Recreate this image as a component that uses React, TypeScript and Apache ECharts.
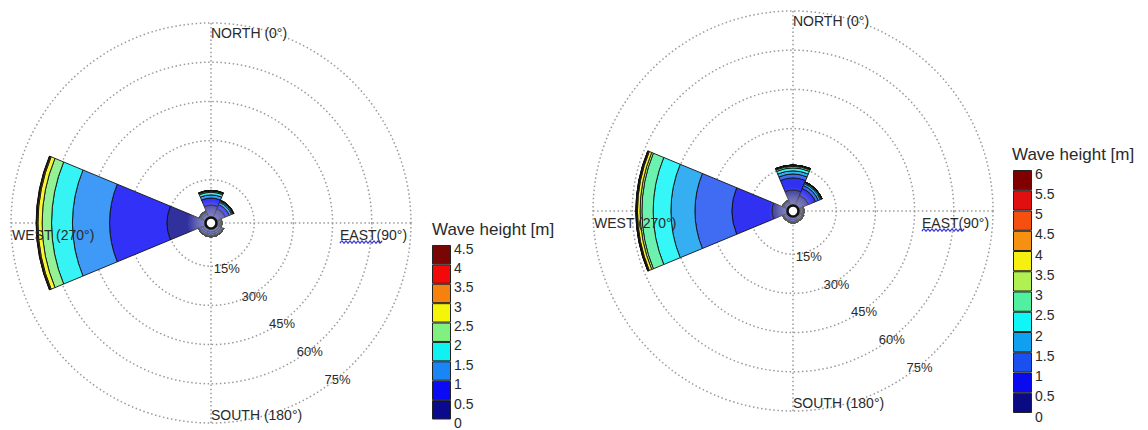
import React, { useEffect, useRef } from 'react';
import * as echarts from 'echarts';

// ---------- data ----------
const DIRECTIONS = ['N', 'NE', 'E', 'SE', 'S', 'SW', 'W', 'NW'];
const COMPASS_LABELS = ['NORTH (0°)', 'EAST(90°)', 'SOUTH (180°)', 'WEST (270°)'];
const COLORBAR_TITLE = 'Wave height [m]';

// left rose: wave-height bins of 0.5 m, 0 – 4.5 m; frequency in % by direction (N..NW)
const LEFT_EDGES = [0, 0.5, 1, 1.5, 2, 2.5, 3, 3.5, 4, 4.5];
const LEFT_BIN_0 = [5.4, 4.5, 1.6, 2.0, 2.0, 2.0, 15.3, 2.2];
const LEFT_BIN_1 = [2.6, 1.6, 0.5, 0.8, 0.8, 0.8, 22.0, 0.7];
const LEFT_BIN_2 = [1.2, 0.9, 0.3, 0.5, 0.5, 0.5, 14.2, 0.3];
const LEFT_BIN_3 = [1.0, 0.4, 0.2, 0.3, 0.3, 0.3, 8.0, 0.2];
const LEFT_BIN_4 = [0.4, 0.3, 0.1, 0.2, 0.2, 0.2, 3.6, 0.1];
const LEFT_BIN_5 = [0.2, 0.1, 0, 0, 0, 0, 1.6, 0];
const LEFT_BIN_6 = [0.1, 0.1, 0, 0, 0, 0, 0.4, 0];
const LEFT_BIN_7 = [0, 0, 0, 0, 0, 0, 0.2, 0];
const LEFT_BIN_8 = [0, 0, 0, 0, 0, 0, 0.1, 0];

// right rose: wave-height bins of 0.5 m, 0 – 6 m
const RIGHT_EDGES = [0, 0.5, 1, 1.5, 2, 2.5, 3, 3.5, 4, 4.5, 5, 5.5, 6];
const RIGHT_BIN_0 = [6.5, 5.0, 1.5, 1.5, 1.8, 1.6, 6.5, 1.8];
const RIGHT_BIN_1 = [4.6, 2.8, 0.6, 0.7, 0.7, 0.7, 15.3, 0.6];
const RIGHT_BIN_2 = [1.5, 1.2, 0.3, 0.4, 0.3, 0.3, 14.2, 0.3];
const RIGHT_BIN_3 = [1.2, 0.8, 0.2, 0.2, 0.2, 0.2, 9.2, 0.2];
const RIGHT_BIN_4 = [1.1, 0.4, 0.1, 0.1, 0.1, 0.1, 6.8, 0.1];
const RIGHT_BIN_5 = [0.6, 0.2, 0, 0, 0, 0, 4.3, 0];
const RIGHT_BIN_6 = [0.3, 0.1, 0, 0, 0, 0, 0.7, 0];
const RIGHT_BIN_7 = [0.2, 0, 0, 0, 0, 0, 1.0, 0];
const RIGHT_BIN_8 = [0, 0, 0, 0, 0, 0, 0.3, 0];
const RIGHT_BIN_9 = [0, 0, 0, 0, 0, 0, 0.2, 0];
const RIGHT_BIN_10 = [0, 0, 0, 0, 0, 0, 0.1, 0];
const RIGHT_BIN_11 = [0, 0, 0, 0, 0, 0, 0, 0];

const RADIUS_MAX = 75;
const RADIUS_STEP = 15;
const COMPASS_STEP = 90;

// ---------- styles ----------
const LEFT_COLORS = ['#0a0a8c', '#0a0af5', '#1a86f5', '#10f2f2', '#80f080', '#f5f50a', '#f5820f', '#f20a0a', '#7a0505'];
const RIGHT_COLORS = ['#0a0a82', '#0a0af0', '#1a50f0', '#10a0f0', '#10f5f5', '#50f0a0', '#b0f050', '#f5f010', '#f59010', '#f55010', '#e01010', '#800000'];
const FONT = '"Liberation Sans", Arial, Helvetica, sans-serif';
const TEXT = '#2a2a2a';
const DOT = { color: '#9a9a9a', width: 1.5, type: [1.5, 2.6] as any };

function tint(hex: string, a: number) {
  const n = parseInt(hex.slice(1), 16);
  const r = (n >> 16) & 255, g = (n >> 8) & 255, b = n & 255;
  const m = (c: number) => Math.round(c * a + 255 * (1 - a));
  return `rgb(${m(r)},${m(g)},${m(b)})`;
}

const LEFT_BINS = [LEFT_BIN_0, LEFT_BIN_1, LEFT_BIN_2, LEFT_BIN_3, LEFT_BIN_4, LEFT_BIN_5, LEFT_BIN_6, LEFT_BIN_7, LEFT_BIN_8];
const RIGHT_BINS = [RIGHT_BIN_0, RIGHT_BIN_1, RIGHT_BIN_2, RIGHT_BIN_3, RIGHT_BIN_4, RIGHT_BIN_5, RIGHT_BIN_6, RIGHT_BIN_7, RIGHT_BIN_8, RIGHT_BIN_9, RIGHT_BIN_10, RIGHT_BIN_11];

type RoseCfg = {
  cx: number; cy: number; bins: number[][]; colors: string[]; edges: number[];
  cb: { left: number; top: number; height: number }; title: { x: number; y: number };
};

const ROSES: RoseCfg[] = [
  { cx: 211, cy: 223, bins: LEFT_BINS, colors: LEFT_COLORS, edges: LEFT_EDGES, cb: { left: 432, top: 245, height: 180 }, title: { x: 432, y: 229 } },
  { cx: 793, cy: 211, bins: RIGHT_BINS, colors: RIGHT_COLORS, edges: RIGHT_EDGES, cb: { left: 1013, top: 170, height: 243 }, title: { x: 1012, y: 154 } },
];

const R_OUT = 200;
const R_IN = 4;

function buildOption() {
  const polar: any[] = [];
  const angleAxis: any[] = [];
  const radiusAxis: any[] = [];
  const grid: any[] = [];
  const xAxis: any[] = [];
  const yAxis: any[] = [];
  const series: any[] = [];
  const graphic: any[] = [];

  ROSES.forEach((rc, k) => {
    const pGrid = 3 * k, pBar = 3 * k + 1, pLab = 3 * k + 2;
    for (let j = 0; j < 3; j++) polar.push({ center: [rc.cx, rc.cy], radius: [R_IN, R_OUT] });

    // grid: dotted compass spokes + dotted rings
    angleAxis.push({
      polarIndex: pGrid, type: 'value', min: 0, max: 360, interval: COMPASS_STEP,
      startAngle: 90, clockwise: true,
      axisLine: { show: false }, axisTick: { show: false }, axisLabel: { show: false },
      splitLine: { show: true, lineStyle: DOT },
    });
    radiusAxis.push({
      polarIndex: pGrid, type: 'value', min: 0, max: RADIUS_MAX, interval: RADIUS_STEP,
      axisLine: { show: false }, axisTick: { show: false }, axisLabel: { show: false },
      splitLine: { show: true, lineStyle: DOT },
    });
    // bars
    angleAxis.push({
      polarIndex: pBar, type: 'category', data: DIRECTIONS, boundaryGap: false,
      startAngle: 90, clockwise: true, show: false,
    });
    radiusAxis.push({ polarIndex: pBar, type: 'value', min: 0, max: RADIUS_MAX, show: false });
    // percentage labels along the south-east radius
    angleAxis.push({ polarIndex: pLab, type: 'value', min: 0, max: 360, startAngle: -45, show: false });
    radiusAxis.push({
      polarIndex: pLab, type: 'value', min: 0, max: RADIUS_MAX, interval: RADIUS_STEP,
      axisLine: { show: false }, axisTick: { show: false }, splitLine: { show: false },
      axisLabel: {
        formatter: (v: number) => (v === 0 ? '' : v + '%'), margin: -21,
        align: 'center', verticalAlign: 'middle', fontSize: 13, color: TEXT, fontFamily: FONT,
      },
    });

    rc.bins.forEach((vals, i) => {
      series.push({
        type: 'bar', coordinateSystem: 'polar', polarIndex: pBar, stack: 'rose' + k,
        name: `${rc.edges[i]}-${rc.edges[i + 1]} m`,
        data: vals, barCategoryGap: '0%', silent: true,
        itemStyle: { color: tint(rc.colors[i], 0.84), borderColor: '#111', borderWidth: 0.9 },
      });
    });

    // colorbar
    grid.push({ left: rc.cb.left, top: rc.cb.top, width: 19, height: rc.cb.height });
    xAxis.push({ gridIndex: k, type: 'category', data: ['h'], show: false });
    yAxis.push({
      gridIndex: k, type: 'value', min: 0, max: rc.edges[rc.edges.length - 1], interval: 0.5,
      position: 'right', axisLine: { show: false }, axisTick: { show: false }, splitLine: { show: false },
      axisLabel: { margin: 3, fontSize: 14, color: TEXT, fontFamily: FONT, verticalAlign: 'top', lineHeight: 7 },
    });
    rc.colors.forEach((c, i) => {
      series.push({
        type: 'bar', xAxisIndex: k, yAxisIndex: k, stack: 'cb' + k, silent: true,
        data: [rc.edges[i + 1] - rc.edges[i]], barWidth: '100%',
        itemStyle: { color: c, borderColor: '#222', borderWidth: 1 },
      });
    });

    // light centre (face transparency look), hole
    graphic.push({
      type: 'circle', z: 5, silent: true, shape: { cx: rc.cx, cy: rc.cy, r: 24 },
      style: {
        fill: {
          type: 'radial', x: 0.5, y: 0.5, r: 0.5,
          colorStops: [
            { offset: 0, color: 'rgba(255,255,255,0.5)' },
            { offset: 0.55, color: 'rgba(255,255,255,0.28)' },
            { offset: 1, color: 'rgba(255,255,255,0)' },
          ],
        },
      },
    });
    graphic.push({
      type: 'circle', z: 6, silent: true, shape: { cx: rc.cx, cy: rc.cy, r: 5.5 },
      style: { fill: '#fff', stroke: '#111', lineWidth: 2.5 },
    });

    const tstyle = (text: string) => ({ text, fontSize: 14, fontFamily: FONT, fill: TEXT, align: 'left', verticalAlign: 'middle' });
    graphic.push({ type: 'text', z: 10, x: rc.cx, y: rc.cy - 190, style: tstyle(COMPASS_LABELS[0]) });
    graphic.push({ type: 'text', z: 10, x: rc.cx + 129, y: rc.cy + 12, style: tstyle(COMPASS_LABELS[1]) });
    graphic.push({ type: 'text', z: 10, x: rc.cx, y: rc.cy + 192, style: tstyle(COMPASS_LABELS[2]) });
    graphic.push({ type: 'text', z: 10, x: rc.cx - 199, y: rc.cy + 12, style: tstyle(COMPASS_LABELS[3]) });
    // spell-check style wavy underline under "EAST"
    const pts: number[][] = [];
    for (let x = 0, j = 0; x <= 42; x += 2, j++) pts.push([rc.cx + 129 + x, rc.cy + 19 + (j % 2 ? -1.2 : 1.2)]);
    graphic.push({ type: 'polyline', z: 10, silent: true, shape: { points: pts, smooth: 0.4 }, style: { stroke: '#2c2cc8', lineWidth: 1.2, fill: null } });
    graphic.push({
      type: 'text', z: 10, x: rc.title.x, y: rc.title.y,
      style: { text: COLORBAR_TITLE, fontSize: 17, fontFamily: FONT, fill: TEXT, align: 'left', verticalAlign: 'middle' },
    });
  });

  return {
    animation: false,
    backgroundColor: '#ffffff',
    polar, angleAxis, radiusAxis, grid, xAxis, yAxis, series, graphic,
  };
}

export default function App() {
  const ref = useRef<HTMLDivElement>(null);
  useEffect(() => {
    if (!ref.current) return;
    const chart = echarts.init(ref.current, undefined, { renderer: 'svg' });
    chart.setOption(buildOption() as any);
    return () => chart.dispose();
  }, []);
  return (
    <div
      ref={ref}
      style={{ position: 'fixed', left: 0, top: 0, width: 1148, height: 430, background: '#fff' }}
    />
  );
}
